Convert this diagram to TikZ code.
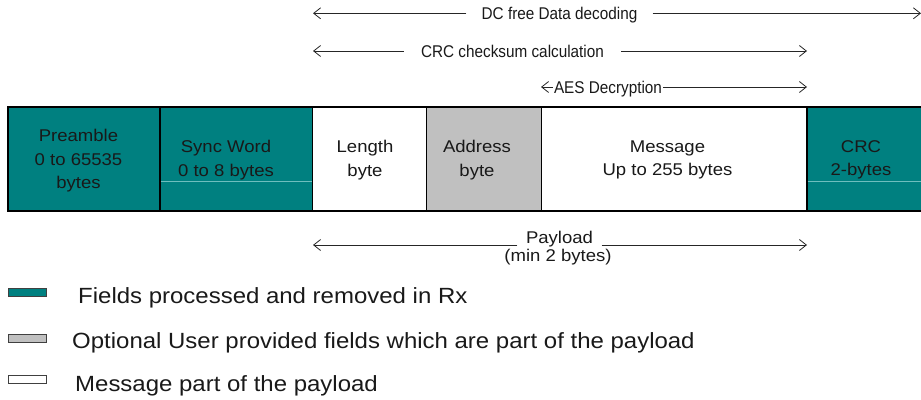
\documentclass[tikz,border=0pt]{standalone}
\usepackage{fontspec}
\usepackage{graphicx}
\setmainfont{Liberation Sans}
\newfontfamily\boxfont[FakeStretch=1.09]{Liberation Sans}
\newcommand{\narrowtext}[1]{\scalebox{0.9}[1]{#1}}
\usetikzlibrary{arrows.meta}
\definecolor{tealfield}{RGB}{0,128,128}
\definecolor{grayfield}{RGB}{192,192,192}
\definecolor{faintteal}{RGB}{110,190,190}
\tikzset{
  field/.style={draw=black, line width=1.2pt, anchor=north west, inner sep=0pt, outer sep=0pt, minimum height=104pt},
  fieldtext/.style={inner sep=0pt, align=center, text=black!90, font=\boxfont\fontsize{17}{23.5}\selectfont},
  arrlabel/.style={inner ysep=0pt, anchor=base, text=black!90, font=\rmfamily\fontsize{17}{20}\selectfont},
  paylabel/.style={inner ysep=0pt, anchor=base, text=black!90, font=\boxfont\fontsize{17}{20}\selectfont},
  dim/.style={draw=black!85, line width=0.8pt, -{Straight Barb[length=7pt,width=11pt]}},
  swatch/.style={draw=black!75, line width=1pt, minimum width=38pt, minimum height=8pt, inner sep=0pt},
  legtext/.style={anchor=base west, inner sep=0pt, text=black!90, font=\boxfont\fontsize{22}{26}\selectfont},
  faintline/.style={draw=faintteal, line width=0.6pt}
}
\begin{document}
\begin{tikzpicture}[x=1pt,y=-1pt]
\useasboundingbox (0,0) rectangle (921,399);

% frame fields
\node[field, fill=tealfield, minimum width=152pt] (pre) at (8,107) {};
\node[field, fill=tealfield, minimum width=152.5pt] (sync) at (160,107) {};
\node[field, fill=white, minimum width=114pt] (len) at (312.5,107) {};
\node[field, fill=grayfield, minimum width=115pt] (addr) at (426.5,107) {};
\node[field, fill=white, minimum width=265.5pt] (msg) at (541.5,107) {};
\node[field, fill=tealfield, minimum width=115pt] (crc) at (807,107) {};

\draw[faintline] (160.6,181) -- (311.9,181);
\draw[faintline] (807.6,181) -- (921,181);

\node[fieldtext] (preT) at (78.5,161) {Preamble\\0 to 65535\\bytes};
\node[fieldtext] (syncT) at (226,160) {Sync Word\\0 to 8 bytes};
\node[fieldtext] (lenT) at (365,160) {Length\\byte};
\node[fieldtext] (addrT) at (477,160) {Address\\byte};
\node[fieldtext] (msgT) at (667.5,160) {Message\\Up to 255 bytes};
\node[fieldtext] (crcT) at (861,160) {CRC\\2-bytes};

% dimension arrows
\coordinate (dcL) at (313,13.3);
\coordinate (dcR) at (921,13.3);
\node[arrlabel, inner xsep=15pt] (dcT) at (559.5,19.5) {\narrowtext{DC free Data decoding}};
\draw[dim] (dcT.west |- dcL) -- (dcL);
\draw[dim] (dcT.east |- dcR) -- (dcR);

\coordinate (crcL) at (313,51);
\coordinate (crcR) at (807,51);
\node[arrlabel, inner xsep=17pt] (crcA) at (512.5,57) {\narrowtext{CRC checksum calculation}};
\draw[dim] (crcA.west |- crcL) -- (crcL);
\draw[dim] (crcA.east |- crcR) -- (crcR);

\coordinate (aesL) at (541,87);
\coordinate (aesR) at (807,87);
\node[arrlabel, inner xsep=1pt] (aesT) at (608,93) {\narrowtext{AES Decryption}};
\draw[dim] (aesT.west |- aesL) -- (aesL);
\draw[dim] (aesT.east |- aesR) -- (aesR);

\coordinate (payL) at (313,245);
\coordinate (payR) at (807,245);
\node[paylabel, inner xsep=8.5pt] (payT) at (559.5,243) {Payload};
\node[paylabel, inner xsep=0pt] (payS) at (558,261) {(min 2 bytes)};
\draw[dim] (payT.west |- payL) -- (payL);
\draw[dim] (payT.east |- payR) -- (payR);

% legend
\node[swatch, fill=tealfield] (sw1) at (27,292) {};
\node[swatch, fill=grayfield] (sw2) at (27,338.3) {};
\node[swatch, fill=white] (sw3) at (27,379.5) {};
\node[legtext] (lg1) at (78,303.3) {Fields processed and removed in Rx};
\node[legtext] (lg2) at (72,348) {Optional User provided fields which are part of the payload};
\node[legtext] (lg3) at (75,391) {Message part of the payload};
\end{tikzpicture}
\end{document}
